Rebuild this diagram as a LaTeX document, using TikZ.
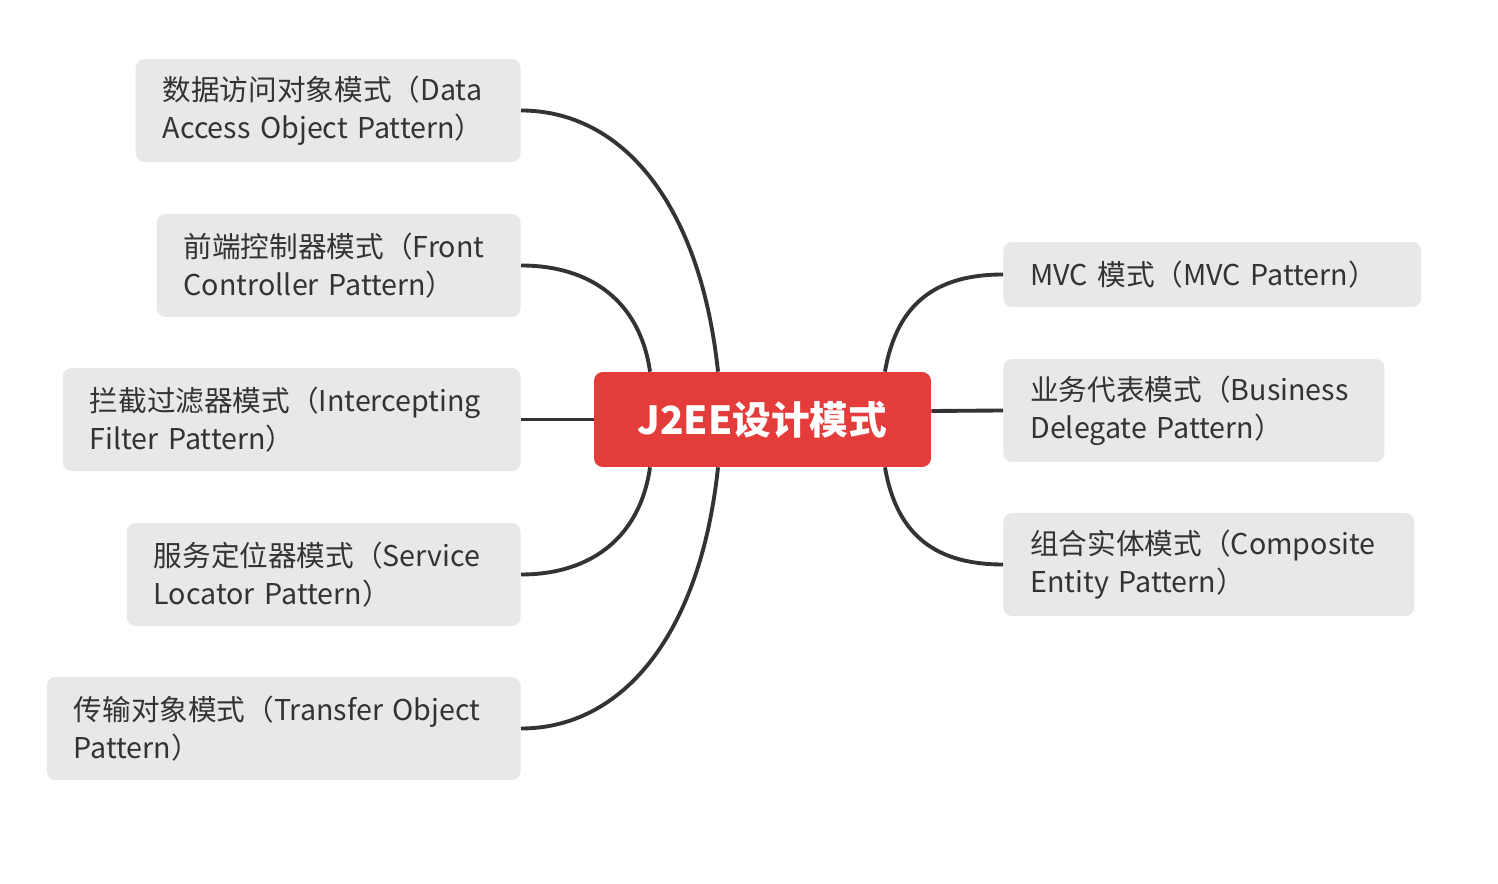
\documentclass[tikz,border=0pt]{standalone}
\usepackage{fontspec}
\setmainfont{Noto Sans CJK SC}
\usetikzlibrary{positioning}

\definecolor{topicred}{HTML}{E33C3B}
\definecolor{subgray}{HTML}{E8E8E8}
\definecolor{inkgray}{HTML}{333333}

\tikzset{
  central/.style={fill=topicred, rounded corners=5pt, text=white,
    minimum width=6.74cm, minimum height=1.9cm,
    font=\fontsize{22pt}{26pt}\selectfont\bfseries},
  subtopic/.style={fill=subgray, rounded corners=5pt, text=inkgray,
    align=left, inner xsep=0.54cm, minimum height=2.06cm,
    font=\fontsize{16.3pt}{21.6pt}\selectfont},
  branch/.style={draw=inkgray, line width=2.2pt}
}

\begin{document}
\begin{tikzpicture}[x=0.02cm, y=-0.02cm]
  \useasboundingbox (0,0) rectangle (1498,884);

  % main topic
  \node[central] (J2EE) at (762.5,419.5) {J2EE设计模式};

  % left side
  \node[subtopic, anchor=east, text width=6.62cm] (DAO) at (521,110.5)
    {数据访问对象模式（Data\\Access Object Pattern）};
  \node[subtopic, anchor=east, text width=6.2cm] (Front) at (521,265.5)
    {前端控制器模式（Front\\Controller Pattern）};
  \node[subtopic, anchor=east, text width=8.08cm] (Filter) at (521,419.5)
    {拦截过滤器模式（Intercepting\\Filter Pattern）};
  \node[subtopic, anchor=east, text width=6.8cm] (Locator) at (521,574.5)
    {服务定位器模式（Service\\Locator Pattern）};
  \node[subtopic, anchor=east, text width=8.4cm] (Transfer) at (521,728.5)
    {传输对象模式（Transfer Object\\Pattern）};

  % right side
  \node[subtopic, anchor=west, text width=7.28cm, minimum height=1.3cm] (MVC) at (1003,274.5)
    {MVC 模式（MVC Pattern）};
  \node[subtopic, anchor=west, text width=6.54cm] (Delegate) at (1003,410.5)
    {业务代表模式（Business\\Delegate Pattern）};
  \node[subtopic, anchor=west, text width=7.14cm] (Entity) at (1003,564.5)
    {组合实体模式（Composite\\Entity Pattern）};

  % connectors
  \draw[branch] ([xshift=-0.89cm]J2EE.north) .. controls +(-18,-170) and +(100,0) .. (DAO.east);
  \draw[branch] ([xshift=-2.25cm]J2EE.north) .. controls +(-10,-70) and +(70,0) .. (Front.east);
  \draw[branch] (J2EE.west) -- (Filter.east);
  \draw[branch] ([xshift=-2.25cm]J2EE.south) .. controls +(-10,70) and +(70,0) .. (Locator.east);
  \draw[branch] ([xshift=-0.89cm]J2EE.south) .. controls +(-18,170) and +(100,0) .. (Transfer.east);
  \draw[branch] ([xshift=2.45cm]J2EE.north) .. controls +(12,-70) and +(-65,0) .. (MVC.west);
  \draw[branch] ([yshift=0.17cm]J2EE.east) -- (Delegate.west);
  \draw[branch] ([xshift=2.45cm]J2EE.south) .. controls +(12,70) and +(-65,0) .. (Entity.west);
\end{tikzpicture}
\end{document}
